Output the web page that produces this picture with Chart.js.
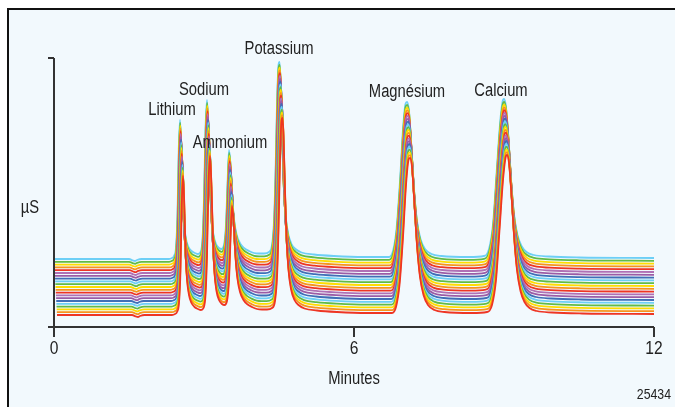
<!DOCTYPE html>
<html>
<head>
<meta charset="utf-8">
<script src="https://cdn.jsdelivr.net/npm/chart.js@4.4.0/dist/chart.umd.min.js"></script>
<style>
  html, body { margin: 0; padding: 0; background: #fff; overflow: hidden; }
  #frame {
    position: absolute; left: 7px; top: 8px; width: 700px; height: 420px;
    background: #f2f9fd; border-left: 2px solid #111; border-top: 2px solid #111;
  }
  #wrap { position: absolute; left: 0; top: 0; width: 675px; height: 407px; }
</style>
</head>
<body>
<div id="frame"></div>
<div id="wrap"><canvas id="chart" width="675" height="407"></canvas></div>
<script>
// base chromatogram, minutes vs signal above the trace's own baseline
const times = [
  0, 1.50, 1.58, 1.62, 1.66, 1.75, 2.30, 2.36, 2.40, 2.44, 2.47, 2.495, 2.52, 2.545, 2.57, 2.60,
  2.64, 2.69, 2.75, 2.82, 2.88, 2.93, 2.97, 3.00, 3.03, 3.06, 3.09, 3.12, 3.15,
  3.19, 3.24, 3.30, 3.35, 3.40, 3.44, 3.47, 3.50, 3.53, 3.57, 3.61, 3.66, 3.73,
  3.80, 3.90, 4.00, 4.10, 4.20, 4.30, 4.36, 4.40, 4.43, 4.46, 4.49, 4.51, 4.53, 4.56,
  4.59, 4.63, 4.68, 4.75, 4.83, 4.95, 5.20, 5.60, 6.20, 6.70, 6.78, 6.85, 6.92, 6.98,
  7.03, 7.06, 7.10, 7.15, 7.20, 7.26, 7.33, 7.42, 7.55, 7.75, 8.30, 8.60, 8.70, 8.78,
  8.85, 8.92, 8.97, 9.00, 9.04, 9.09, 9.14, 9.20, 9.27, 9.35, 9.45, 9.60, 9.90, 10.5, 12
];
const signal = [
  0, 0, -1.5, -2, -1, 0, 0, 1, 3, 12, 45, 110, 139, 112, 65, 36,
  20, 12, 8, 6, 5, 7, 20, 60, 130, 159, 128, 75, 42,
  24, 15, 11, 10, 14, 35, 75, 109, 95, 58, 36, 23, 15,
  11, 8, 6, 5.5, 5.5, 7, 14, 38, 85, 155, 194, 197, 180, 125,
  78, 45, 26, 15, 10, 6.5, 4.5, 3, 2, 2, 8, 30, 78, 130,
  155, 157, 148, 110, 70, 38, 20, 10, 5, 3, 2, 3, 10, 35,
  85, 135, 157, 160, 152, 120, 80, 45, 24, 13, 7, 4, 2.5, 1.5, 1
];

// 21 runs, bottom (red) to top (cyan)
const runOffsets = [12, 14.8, 17.6, 20.4, 23.2, 26, 28.8, 31.6, 34.4, 37.2, 40, 42.8, 45.6,
  48.4, 51.2, 54, 56.8, 59.6, 62.4, 65.2, 68];
const runShifts = [0.06, 0.057, 0.054, 0.051, 0.048, 0.045, 0.042, 0.039, 0.036, 0.033, 0.03,
  0.027, 0.024, 0.021, 0.018, 0.015, 0.012, 0.009, 0.006, 0.003, 0];
const palette = ['#ee3524', '#f7941d', '#ffdd00', '#62bb46', '#6dcff6', '#3f6fb7', '#9b5ba5', '#b070b5'];

const peakNames = ['Lithium', 'Sodium', 'Ammonium', 'Potassium', 'Magnésium', 'Calcium'];
const peakLabelX = [2.36, 3.0, 3.52, 4.5, 7.06, 8.94];
const peakLabelY = [217, 237, 184, 278, 235, 236];

const xTicks = [0, 6, 12];

const datasets = runOffsets.map((off, i) => ({
  data: times.map((t, k) => ({ x: t + runShifts[i], y: signal[k] + off })),
  borderColor: palette[i % palette.length],
  borderWidth: 1.8,
  pointRadius: 0,
  cubicInterpolationMode: 'monotone',
  fill: false
}));

const FONT = '"Liberation Sans", Arial, sans-serif';

// narrow text: Liberation Sans squeezed to Arial Narrow proportions
function narrowText(ctx, txt, x, y, size, align) {
  ctx.save();
  ctx.font = size + 'px ' + FONT;
  ctx.textAlign = align || 'center';
  ctx.textBaseline = 'middle';
  ctx.translate(x, y);
  ctx.scale(0.82, 1);
  ctx.fillText(txt, 0, 0);
  ctx.restore();
}

const decor = {
  id: 'decor',
  afterDraw(chart) {
    const ctx = chart.ctx;
    const a = chart.chartArea;
    const xs = chart.scales.x, ys = chart.scales.y;
    ctx.save();
    ctx.strokeStyle = '#333';
    ctx.lineWidth = 2;
    ctx.beginPath();
    ctx.moveTo(a.left, a.top); ctx.lineTo(a.left, a.bottom);
    ctx.moveTo(a.left - 6, a.top); ctx.lineTo(a.left, a.top);
    ctx.moveTo(a.left - 6, a.bottom); ctx.lineTo(a.right, a.bottom);
    ctx.stroke();

    ctx.fillStyle = '#222';
    peakNames.forEach((n, i) => {
      narrowText(ctx, n, xs.getPixelForValue(peakLabelX[i]), ys.getPixelForValue(peakLabelY[i]), 18);
    });
    xTicks.forEach(v => narrowText(ctx, String(v), xs.getPixelForValue(v), 349, 19));
    narrowText(ctx, 'µS', 30, 208, 18);
    narrowText(ctx, 'Minutes', (a.left + a.right) / 2, 379, 18);
    narrowText(ctx, '25434', 671, 395, 15, 'right');
    ctx.restore();
  }
};

new Chart(document.getElementById('chart'), {
  type: 'line',
  data: { datasets },
  options: {
    responsive: false,
    animation: false,
    layout: { padding: { left: 54, right: 21, top: 58, bottom: 0 } },
    plugins: { legend: { display: false }, tooltip: { enabled: false } },
    scales: {
      x: {
        type: 'linear', min: 0, max: 12,
        afterBuildTicks: s => { s.ticks = xTicks.map(v => ({ value: v })); },
        afterFit: s => { s.height = 80; },
        grid: { drawOnChartArea: false, drawTicks: true, tickLength: 10, color: '#333', lineWidth: 2 },
        border: { display: false },
        ticks: { display: false }
      },
      y: { display: false, min: 0, max: 269 }
    }
  },
  plugins: [decor]
});
</script>
</body>
</html>
